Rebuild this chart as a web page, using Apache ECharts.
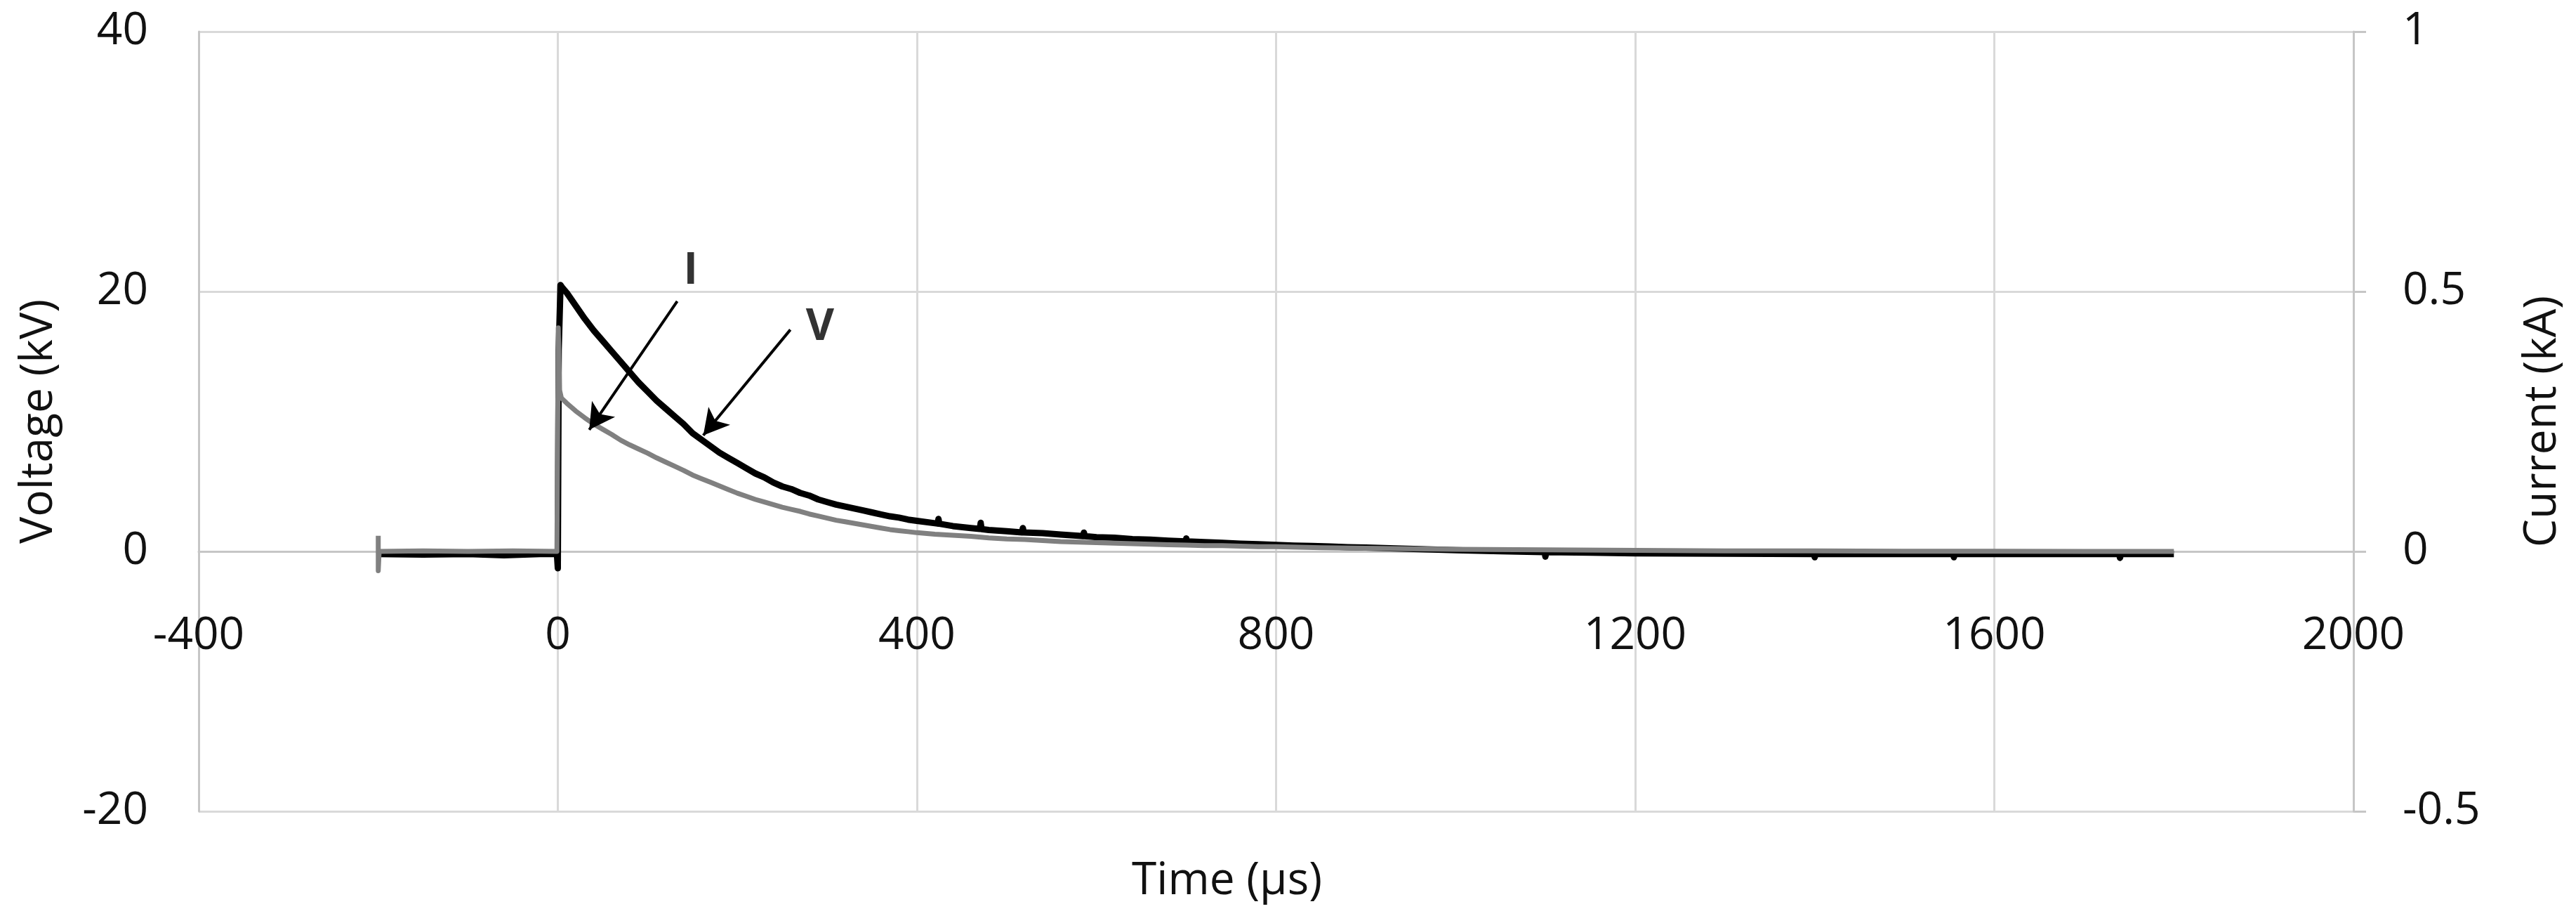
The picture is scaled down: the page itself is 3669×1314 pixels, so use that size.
<!DOCTYPE html>
<html>
<head>
<meta charset="utf-8">
<script src="https://cdn.jsdelivr.net/npm/echarts@6/dist/echarts.min.js"></script>
<style>html,body{margin:0;padding:0;background:#fff}#c{width:3669px;height:1314px}</style>
</head>
<body>
<div id="c"></div>
<script>
// ---- Data ----
const xTicks = [-400, 0, 400, 800, 1200, 1600, 2000];
const voltTime = [-200,-150,-100,-60,-20,-1,0,1,3,5,
  10,20,30,40,50,60,70,80,90,100,110,120,130,140,150,160,170,180,190,200,
  210,220,230,240,250,260,270,280,290,300,310,320,330,340,350,360,370,380,390,400,
  420,423,424,425,440,460,470,471,472,480,500,517,518,519,540,560,580,585,586,587,
  600,620,640,660,680,699,700,701,720,740,760,780,800,820,840,860,880,900,920,940,960,980,1000,
  1050,1099,1100,1101,1150,1200,1300,1399,1400,1401,1500,1554,1555,1556,1650,1739,1740,1741,1800];
const voltKV = [-0.2,-0.25,-0.2,-0.3,-0.2,-0.2,-1.3,15.5,20.5,20.3,
  19.9,18.9,17.9,17.0,16.2,15.4,14.6,13.8,13.0,12.3,11.6,11.0,10.4,9.8,9.1,8.6,8.1,7.6,7.2,6.8,
  6.4,6.0,5.7,5.3,5.0,4.8,4.5,4.3,4.0,3.8,3.6,3.45,3.3,3.15,3.0,2.85,2.7,2.6,2.45,2.35,
  2.17,2.14,2.5,2.13,1.95,1.8,1.73,2.2,1.72,1.65,1.55,1.46,1.8,1.46,1.4,1.3,1.2,1.18,1.45,1.17,
  1.1,1.05,0.95,0.9,0.82,0.77,1.0,0.77,0.72,0.66,0.6,0.55,0.5,0.45,0.42,0.38,0.33,0.3,0.26,0.22,0.18,0.14,0.1,
  0.02,-0.05,-0.4,-0.05,-0.1,-0.15,-0.18,-0.2,-0.45,-0.2,-0.2,-0.2,-0.45,-0.2,-0.2,-0.2,-0.5,-0.2,-0.2];
const currTime = [-200,-200,-199,-150,-100,-50,-1,0,0.5,2,4,
  10,20,30,40,50,60,70,80,90,100,110,120,130,140,150,160,170,180,190,200,
  210,220,230,240,250,260,270,280,290,300,310,320,330,340,350,360,370,380,390,400,
  420,440,460,480,500,520,540,560,580,600,620,640,660,680,700,720,740,760,780,800,
  850,900,950,1000,1100,1200,1300,1400,1500,1600,1700,1800];
const currKA = [0.03,-0.037,0,0.001,0,0.001,0,0,0.43,0.31,0.295,
  0.285,0.27,0.257,0.245,0.235,0.225,0.214,0.205,0.197,0.189,0.18,0.172,0.164,0.156,0.147,0.14,0.133,0.126,0.119,0.112,
  0.106,0.1,0.095,0.09,0.085,0.081,0.077,0.072,0.068,0.064,0.06,0.057,0.054,0.051,0.048,0.045,0.042,0.04,0.038,0.036,
  0.033,0.031,0.029,0.026,0.024,0.023,0.021,0.019,0.018,0.017,0.016,0.015,0.014,0.013,0.012,0.011,0.011,0.01,0.009,0.009,
  0.007,0.006,0.005,0.004,0.003,0.002,0.001,0.001,0.0005,0.0005,0,0];
// annotation arrows: [startTime, startKV, tipTime, tipKV]
const arrowI = [133, 19.25, 35, 9.36];
const arrowV = [259, 17.06, 162, 8.93];
const labelNames = ['I', 'V'];
const labelTime = [148, 292];
const labelKV = [21.55, 17.2];

const voltData = voltTime.map((t, i) => [t, voltKV[i]]);
const currData = currTime.map((t, i) => [t, currKA[i]]);
const labelData = labelNames.map((n, i) => [labelTime[i], labelKV[i], n]);

const FONT = 'Open Sans';
const GRID_TOP = 45, GRID_BOTTOM = 159, H = 1314;
// x axis sits at V = 0 (Excel style): shift it up from the grid bottom
const zeroOffset = -((H - GRID_TOP - GRID_BOTTOM) * (20 / 60));
const chart = echarts.init(document.getElementById('c'), null, {renderer: 'canvas'});
chart.setOption({
  animation: false,
  backgroundColor: '#ffffff',
  grid: {left: 283, right: 317, top: GRID_TOP, bottom: GRID_BOTTOM, containLabel: false, outerBoundsMode: 'none'},
  xAxis: {
    type: 'value', min: -400, max: 2000, interval: 400, position: 'bottom', offset: zeroOffset,
    axisLine: {show: true, onZero: false, lineStyle: {color: '#c6c6c6', width: 3}},
    axisTick: {show: false},
    axisLabel: {fontFamily: FONT, fontSize: 64, color: '#111', margin: 89,
      formatter: v => xTicks.includes(v) ? String(v) : ''},
    splitLine: {show: true, lineStyle: {color: '#d9d9d9', width: 3}},
    name: 'Time (µs)', nameLocation: 'middle', nameGap: 438,
    nameTextStyle: {fontFamily: FONT, fontSize: 64, color: '#111', padding: [0, 140, 0, 0]}
  },
  yAxis: [{
    type: 'value', min: -20, max: 40, interval: 20, position: 'left',
    axisLine: {show: true, onZero: false, lineStyle: {color: '#c6c6c6', width: 3}},
    axisTick: {show: false},
    axisLabel: {fontFamily: FONT, fontSize: 64, color: '#111', margin: 72},
    splitLine: {show: true, lineStyle: {color: '#d9d9d9', width: 3}},
    name: 'Voltage (kV)', nameLocation: 'middle', nameGap: 195, nameRotate: 90,
    nameTextStyle: {fontFamily: FONT, fontSize: 64, color: '#111'}
  }, {
    type: 'value', min: -0.5, max: 1, interval: 0.5, position: 'right',
    axisLine: {show: true, onZero: false, lineStyle: {color: '#c6c6c6', width: 3}},
    axisTick: {show: true, inside: false, length: 18, lineStyle: {color: '#c6c6c6', width: 3}},
    axisLabel: {fontFamily: FONT, fontSize: 64, color: '#111', margin: 70},
    splitLine: {show: false},
    name: 'Current (kA)', nameLocation: 'middle', nameGap: 238, nameRotate: 90,
    nameTextStyle: {fontFamily: FONT, fontSize: 64, color: '#111'}
  }],
  series: [{
    name: 'V', type: 'line', yAxisIndex: 0, data: voltData,
    showSymbol: false, symbol: 'none', z: 2,
    lineStyle: {color: '#000000', width: 9, join: 'round'}
  }, {
    name: 'I', type: 'line', yAxisIndex: 1, data: currData,
    showSymbol: false, symbol: 'none', z: 3,
    lineStyle: {color: '#808080', width: 7, join: 'round'}
  }, {
    name: 'arrows', type: 'line', yAxisIndex: 0, data: [], z: 4,
    markLine: {
      silent: true, animation: false,
      symbol: ['none', 'arrow'], symbolSize: [30, 36],
      label: {show: false},
      lineStyle: {color: '#000', width: 4, type: 'solid'},
      data: [
        [{coord: [arrowI[0], arrowI[1]]}, {coord: [arrowI[2], arrowI[3]]}],
        [{coord: [arrowV[0], arrowV[1]]}, {coord: [arrowV[2], arrowV[3]]}]
      ]
    }
  }, {
    name: 'labels', type: 'scatter', yAxisIndex: 0, data: labelData, z: 5,
    symbolSize: 1, itemStyle: {color: 'rgba(0,0,0,0)'},
    label: {show: true, position: 'inside', formatter: p => p.value[2],
      fontFamily: FONT, fontWeight: 'bold', fontSize: 62, color: '#000'}
  }]
});
</script>
</body>
</html>
